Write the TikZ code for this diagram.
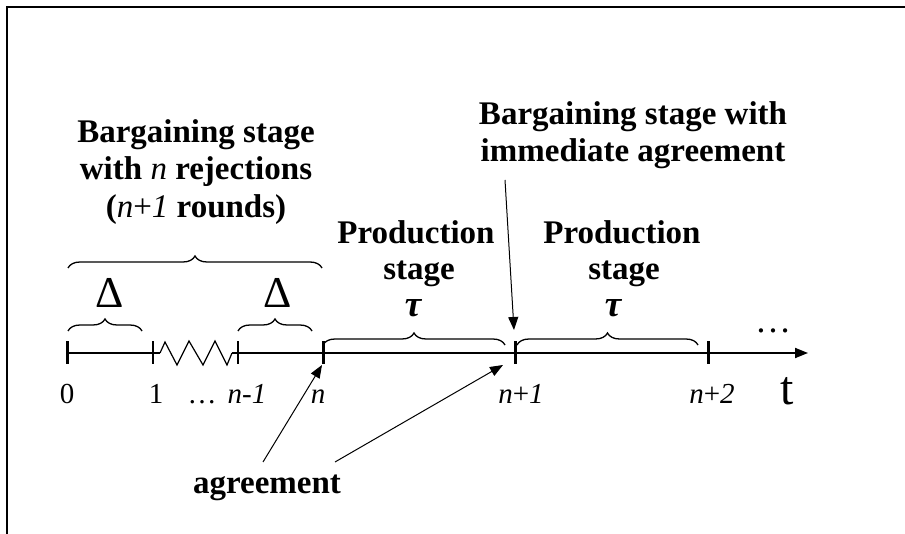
\documentclass[tikz,border=0pt]{standalone}
\usepackage{fontspec}
\setmainfont{Liberation Serif}
\usetikzlibrary{arrows.meta,decorations.pathreplacing}
\tikzset{
  lbl/.style={font=\fontsize{33}{37}\selectfont\bfseries, anchor=base, inner sep=0pt},
  taulbl/.style={font=\fontsize{37}{39}\selectfont\bfseries\itshape, anchor=base, inner sep=0pt, text height=0.47em, text depth=0pt},
  deltalbl/.style={font=\fontsize{44}{46}\selectfont, anchor=base, inner sep=0pt},
  ticklbl/.style={font=\fontsize{29}{32}\selectfont, anchor=base, inner sep=0pt},
  bigtick/.style={line width=3pt},
  smalltick/.style={line width=1.2pt},
  axisline/.style={line width=1.8pt},
  bracedeco/.style={decorate, decoration={brace, amplitude=12pt}, line width=1.3pt},
  pointer/.style={line width=1pt, -{Triangle[length=13pt,width=10pt]}},
  frameline/.style={line width=1.5pt}
}
\begin{document}
\begin{tikzpicture}[x=1pt,y=-1pt]
\useasboundingbox (0,0) rectangle (905,534);
% frame
\draw[frameline] (7,534) -- (7,7) -- (905,7);
% tick coordinates
\coordinate (t0) at (67,353);
\coordinate (t1) at (153,353);
\coordinate (tn1) at (238,353);
\coordinate (tn) at (323,353);
\coordinate (tnp1) at (515,353);
\coordinate (tnp2) at (708,353);
\coordinate (tend) at (808,353);
% axis
\draw[axisline] (t0) -- (160,353);
\draw[line width=1.2pt] (160,353) -- (165,342) -- (177,365) -- (189,341) -- (203,365) -- (215,341) -- (227,365) -- (232,353);
\draw[axisline] (232,353) -- (tn1) -- (tn);
\draw[axisline, -{Triangle[length=13pt,width=10pt]}] (tn) -- (tend);
% ticks
\foreach \p in {t0,tn,tnp1,tnp2} \draw[bigtick] ([yshift=-11pt]\p) -- ([yshift=12pt]\p);
\foreach \p in {t1,tn1} \draw[smalltick] ([yshift=-11pt]\p) -- ([yshift=12pt]\p);
% tick labels
\node[ticklbl] (l0) at (67,404) {0};
\node[ticklbl] (l1) at (156,404) {1};
\node[ticklbl] (ldots) at (202,404) {\ldots};
\node[ticklbl] (ln1) at (247,404) {\textit{n-1}};
\node[ticklbl] (ln) at (318,404) {\textit{n}};
\node[ticklbl] (lnp1) at (521,404) {\textit{n}+\textit{1}};
\node[ticklbl] (lnp2) at (712,404) {\textit{n}+\textit{2}};
\node[font=\fontsize{48}{50}\selectfont, anchor=base, inner sep=0pt] (lt) at (787,405) {t};
\node[font=\fontsize{36}{38}\selectfont, anchor=base, inner sep=0pt] (rdots) at (773,333) {\ldots};
% braces
\draw[bracedeco] (68,268) -- (322,268);
\draw[bracedeco] (68,331) -- (142,331);
\draw[bracedeco] (238,331) -- (312,331);
\draw[bracedeco] (323,345) -- (505,345);
\draw[bracedeco] (517,345) -- (698,345);
% Delta labels
\node[deltalbl] (d1) at (110,308) {Δ};
\node[deltalbl] (d2) at (278,308) {Δ};
% left text
\node[lbl] (b1) at (196,143) {Bargaining stage};
\node[lbl] (b2) at (196,180) {with {\mdseries\itshape n} rejections};
\node[lbl] (b3) at (196,218) {({\mdseries\itshape n}{\mdseries +}{\mdseries\itshape 1} rounds)};
% right text
\node[lbl] (r1) at (633,125) {Bargaining stage with};
\node[lbl] (r2) at (633,162) {immediate agreement};
% production
\node[lbl] (p1) at (416,244) {Production};
\node[lbl] (s1) at (419,280) {stage};
\node[taulbl] (tau1) at (413,317) {τ};
\node[lbl] (p2) at (622,244) {Production};
\node[lbl] (s2) at (624,280) {stage};
\node[taulbl] (tau2) at (613,317) {τ};
% agreement
\node[lbl] (agr) at (267,493) {agreement};
% pointers
\coordinate (imm) at (505,180);
\coordinate (immtip) at (514,330);
\draw[pointer] (imm) -- (immtip);
\coordinate (a1) at (263,462);
\coordinate (a1tip) at (322,365);
\coordinate (a2) at (335,462);
\coordinate (a2tip) at (503,365);
\draw[pointer] (a1) -- (a1tip);
\draw[pointer] (a2) -- (a2tip);
\end{tikzpicture}
\end{document}
